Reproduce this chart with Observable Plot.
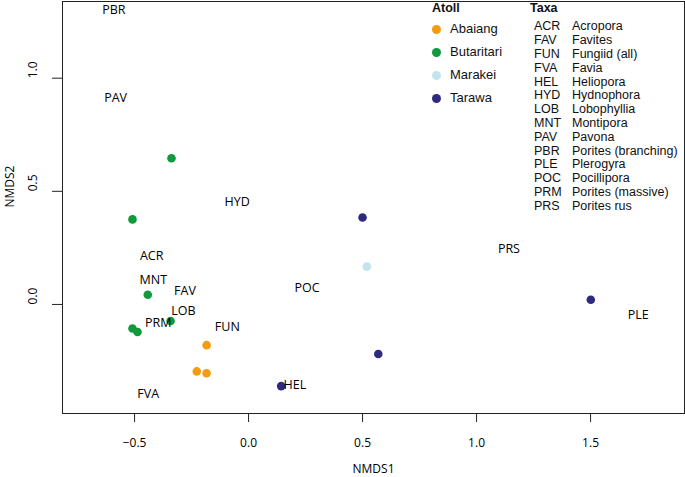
<!DOCTYPE html>
<html>
<head>
<meta charset="utf-8">
<script src="https://cdn.jsdelivr.net/npm/d3@7"></script>
<script src="https://cdn.jsdelivr.net/npm/@observablehq/plot@0.6"></script>
<style>
  html, body { margin: 0; padding: 0; background: #fff; }
  #wrap { position: relative; width: 685px; height: 477px; }
  #legend { position: absolute; left: 0; top: 0; font-family: "Liberation Sans", Arial, sans-serif; color: #111; }
  .lg { position: absolute; white-space: nowrap; line-height: 1; }
  .dot { position: absolute; width: 9px; height: 9px; border-radius: 50%; }
</style>
</head>
<body>
<div id="wrap"><div id="legend"></div></div>
<script>
// Sample points (site scores) by atoll
const atolls = ["Abaiang", "Butaritari", "Marakei", "Tarawa"];
const atollColors = ["#F39C12", "#109A3C", "#C3E4EF", "#2D2A80"];
const pointAtoll = ["Butaritari","Butaritari","Butaritari","Butaritari","Butaritari","Butaritari",
                    "Abaiang","Abaiang","Abaiang",
                    "Tarawa","Tarawa","Tarawa","Tarawa",
                    "Marakei"];
const pointX = [-0.338, -0.509, -0.442, -0.342, -0.509, -0.487,
                -0.184, -0.227, -0.184,
                 0.143,  0.500,  1.501,  0.569,
                 0.519];
const pointY = [ 0.646,  0.376,  0.043, -0.073, -0.106, -0.122,
                -0.180, -0.296, -0.304,
                -0.361,  0.384,  0.021, -0.219,
                 0.167];

// Taxa (species scores)
const taxaCodes = ["ACR","FAV","FUN","FVA","HEL","HYD","LOB","MNT","PAV","PBR","PLE","POC","PRM","PRS"];
const taxaNames = ["Acropora","Favites","Fungiid (all)","Favia","Heliopora","Hydnophora","Lobophyllia",
                   "Montipora","Pavona","Porites (branching)","Plerogyra","Pocillipora","Porites (massive)","Porites rus"];
const taxaX = [-0.425, -0.279, -0.093, -0.440, 0.203, -0.050, -0.286, -0.418, -0.583, -0.591, 1.709, 0.257, -0.396, 1.142];
const taxaY = [ 0.215,  0.061, -0.099, -0.394, -0.355, 0.451, -0.028, 0.108, 0.913, 1.303, -0.047, 0.073, -0.080, 0.245];

// Axis ticks
const xTicks = [-0.5, 0.0, 0.5, 1.0, 1.5];
const yTicks = [0.0, 0.5, 1.0];
const xLabel = "NMDS1";
const yLabel = "NMDS2";

const points = pointX.map((x, i) => ({x, y: pointY[i], atoll: pointAtoll[i]}));
const taxa = taxaCodes.map((c, i) => ({code: c, x: taxaX[i], y: taxaY[i]}));
const fmt = d3.format(".1f");

const plotFont = "'Open Sans', 'Liberation Sans', sans-serif";

const chart = Plot.plot({
  width: 685,
  height: 477,
  marginLeft: 62,
  marginRight: 1,
  marginTop: 1,
  marginBottom: 64,
  style: {fontFamily: plotFont, fontSize: "12px", color: "#000", background: "#fff"},
  x: {type: "linear", domain: [-0.816, 1.912], axis: null},
  y: {type: "linear", domain: [-0.482, 1.339], axis: null},
  color: {domain: atolls, range: atollColors},
  marks: [
    Plot.frame({stroke: "#222", strokeWidth: 1}),
    Plot.axisX({ticks: xTicks, tickSize: 9, tickFormat: () => "", stroke: "#222", label: null}),
    Plot.axisY({ticks: yTicks, tickSize: 10, tickFormat: () => "", stroke: "#222", label: null}),
    Plot.text(xTicks, {x: d => d, frameAnchor: "bottom", dy: 33, text: d => fmt(d), fontSize: 12, fill: "#000"}),
    Plot.text(yTicks, {y: d => d, frameAnchor: "left", dx: -29, rotate: -90, text: d => fmt(d), fontSize: 12, fill: "#000"}),
    Plot.text([xLabel], {frameAnchor: "bottom", dy: 59, text: d => d, fontSize: 12, fill: "#000"}),
    Plot.text([yLabel], {frameAnchor: "left", dx: -52, rotate: -90, text: d => d, fontSize: 12, fill: "#000"}),
    Plot.dot(points, {x: "x", y: "y", fill: "atoll", r: 4.3}),
    Plot.text(taxa, {x: "x", y: "y", text: "code", fontSize: 12.5, fill: "#000"})
  ]
});

const wrap = document.getElementById("wrap");
wrap.insertBefore(chart, wrap.firstChild);

// Legend overlay
const lg = document.getElementById("legend");
function addText(txt, left, top, size, bold) {
  const el = document.createElement("div");
  el.className = "lg";
  el.textContent = txt;
  el.style.left = left + "px";
  el.style.top = (top - size * 0.55) + "px";
  el.style.fontSize = size + "px";
  if (bold) el.style.fontWeight = "bold";
  lg.appendChild(el);
}
addText("Atoll", 432, 9, 12.5, true);
atolls.forEach((a, i) => {
  const cy = 29.3 + i * 23;
  const d = document.createElement("div");
  d.className = "dot";
  d.style.left = (436.7 - 4.5) + "px";
  d.style.top = (cy - 4.5) + "px";
  d.style.background = atollColors[i];
  lg.appendChild(d);
  addText(a, 450, cy, 13, false);
});
addText("Taxa", 530, 9, 12.5, true);
taxaCodes.forEach((c, i) => {
  const cy = 27.3 + i * 13.8;
  addText(c, 534, cy, 12.5, false);
  addText(taxaNames[i], 572, cy, 12.5, false);
});
</script>
</body>
</html>
